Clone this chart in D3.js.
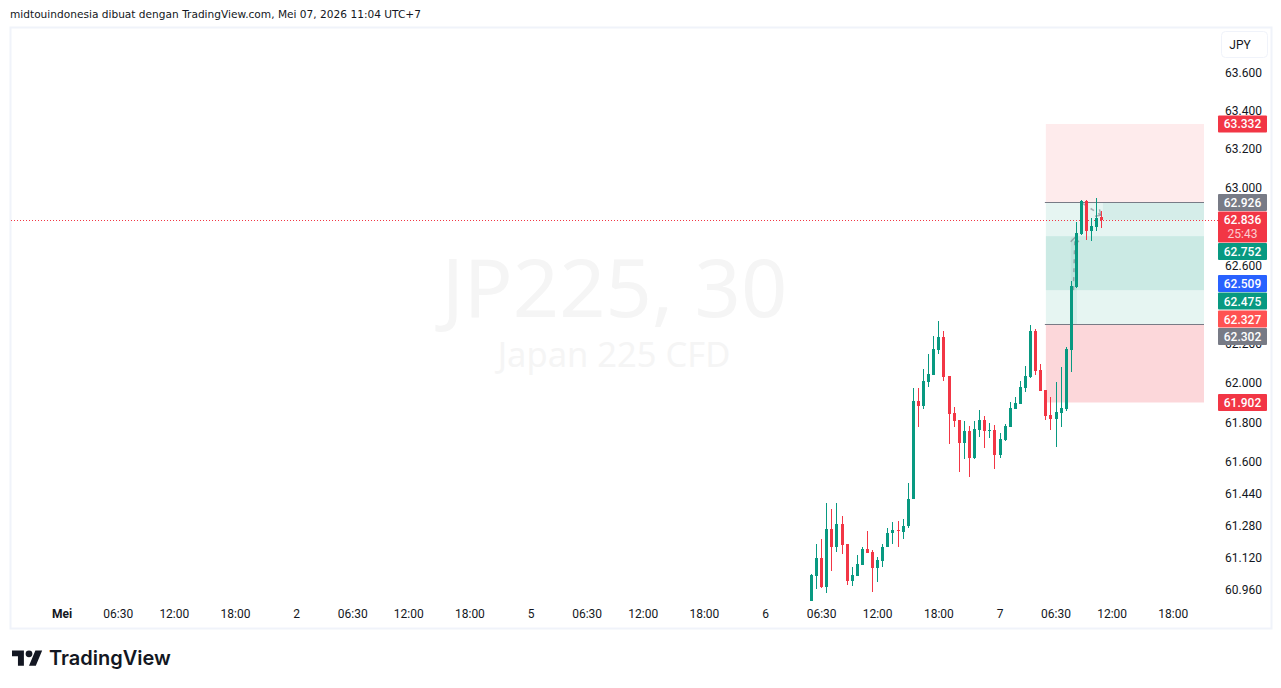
<!DOCTYPE html>
<html>
<head>
<meta charset="utf-8">
<script src="https://cdn.jsdelivr.net/npm/d3@7"></script>
<style>
html, body { margin: 0; padding: 0; background: #fff; }
svg { display: block; }
</style>
</head>
<body>
<svg width="1281" height="688"></svg>
<script>
// bar number, counted from the 1st of May, of the first candle on the chart
var firstBar = 147;
// open, high, low, close per 30 minute candle
var opens = [60.902,61.028,61.117,60.973,61.263,61.171,61.288,61.187,61.005,61.028,61.085,61.162,61.147,61.068,61.104,61.171,61.241,61.259,61.249,61.276,
  61.412,61.912,61.886,62.008,62.044,62.171,62.237,62.039,61.851,61.815,61.699,61.760,61.622,61.765,61.815,61.760,61.765,61.638,61.714,61.780,61.871,61.892,61.978,
  62.034,62.267,62.069,61.963,61.841,61.820,61.851,61.871,62.171,62.493,62.764,62.934,62.780,62.800,62.850];
var highs = [61.038,61.189,61.214,61.395,61.365,61.395,61.328,61.187,61.073,61.134,61.174,61.254,61.159,61.124,61.187,61.270,61.300,61.305,61.315,61.496,
  61.978,61.978,62.074,62.151,62.242,62.318,62.267,62.039,61.881,61.815,61.810,61.785,61.810,61.866,61.836,61.800,61.790,61.749,61.795,61.902,61.932,62.013,62.090,
  62.298,62.278,62.100,61.968,61.932,62.008,62.085,62.186,62.523,62.826,62.939,62.939,62.846,62.949,62.882];
var lows = [60.902,60.964,60.968,60.943,61.053,61.149,61.140,60.983,60.978,61.028,61.085,61.144,60.948,60.998,61.073,61.171,61.189,61.174,61.214,61.270,
  61.412,61.780,61.871,61.983,62.044,62.151,62.013,61.694,61.780,61.551,61.617,61.526,61.617,61.729,61.673,61.724,61.566,61.622,61.709,61.780,61.871,61.892,61.953,
  62.029,62.044,61.958,61.815,61.765,61.678,61.780,61.861,62.059,62.487,62.759,62.734,62.729,62.780,62.795];
var closes = [61.033,61.117,60.973,61.263,61.171,61.288,61.184,61.005,61.033,61.087,61.162,61.144,61.068,61.107,61.174,61.244,61.259,61.254,61.278,61.415,
  61.912,61.886,62.013,62.049,62.176,62.237,62.034,61.846,61.810,61.699,61.760,61.622,61.770,61.815,61.760,61.765,61.638,61.719,61.785,61.876,61.897,61.983,62.039,
  62.267,62.064,61.958,61.836,61.820,61.856,61.876,62.176,62.498,62.770,62.934,62.780,62.805,62.846,62.836];

// 62.800 and 62.400 are left out, the price labels cover them
var priceTicks = [63.6,63.4,63.2,63.0,62.6,62.2,62.0,61.8,61.6,61.44,61.28,61.12,60.96];
var timeTicks = [0,11,22,34,46,57,68,80,92,103,114,126,138,149,160,172,184,195,206,218];
var timeLabels = ['Mei','06:30','12:00','18:00','2','06:30','12:00','18:00','5','06:30','12:00','18:00','6','06:30','12:00','18:00','7','06:30','12:00','18:00'];

// position tool levels
var stopTop = 63.332, stopBottom = 62.926;
var targetBottom = 62.302, riskBottom = 61.902;
var fillTop = 62.752, fillBottom = 62.475;
var lastPrice = 62.836;

// dashed trade arrows on the position tool
var arrowBars = [[198.4, 198.7], [200.3, 203.8]];
var arrowPrices = [[62.475, 62.745], [62.92, 62.86]];

// price labels in the order they claim room on the axis
var labelPrices = [62.836,62.926,62.509,62.327,63.332,61.902,62.752,62.475,62.302];
var labelColors = ['#f23645','#787b86','#2962ff','#ff5252','#f23645','#f23645','#089981','#089981','#787b86'];
var countdown = '25:43';

var upColor = '#089981', downColor = '#f23645';
var fontName = "Roboto, 'Liberation Sans', sans-serif";

var svg = d3.select('svg');

var y = d3.scaleLog().domain([63.6, 60.96]).range([72.5, 589.5]);
var x = d3.scaleLinear().domain([0, 184]).range([62.2, 1000]);

// frame of the chart
svg.append('rect').attr('x', 10.5).attr('y', 27.5).attr('width', 1261).attr('height', 601)
  .attr('fill', '#fff').attr('stroke', '#f0f3fa').attr('stroke-width', 2);

svg.append('text').attr('x', 10).attr('y', 18).text('midtouindonesia dibuat dengan TradingView.com, Mei 07, 2026 11:04 UTC+7')
  .attr('font-family', "'DejaVu Sans', sans-serif").attr('font-size', 10.6).attr('fill', '#131722');

// watermark
svg.append('text').attr('x', 614.5).attr('y', 316.5).attr('text-anchor', 'middle').text('JP225, 30')
  .attr('font-family', "'Noto Sans', sans-serif").attr('font-size', 81).attr('fill', '#f5f5f5');
svg.append('text').attr('x', 614).attr('y', 367).attr('text-anchor', 'middle').text('Japan 225 CFD')
  .attr('font-family', "'Noto Sans', sans-serif").attr('font-size', 34.5).attr('fill', '#f5f5f5');

// long position boxes
var boxLeft = x(firstBar + 46), boxRight = 1204;
function band(left, right, top, bottom, color, alpha) {
  svg.append('rect').attr('x', left).attr('width', right - left)
    .attr('y', y(top)).attr('height', y(bottom) - y(top))
    .attr('fill', color).attr('fill-opacity', alpha);
}
band(boxLeft, boxRight, stopTop, stopBottom, downColor, 0.1);
band(boxLeft, boxRight, stopBottom, targetBottom, upColor, 0.1);
band(boxLeft, boxRight, fillTop, fillBottom, upColor, 0.12);
band(boxLeft, boxRight, targetBottom, riskBottom, downColor, 0.2);
band(x(firstBar + 57) + 1, boxRight, stopBottom, lastPrice, upColor, 0.08);
band(x(firstBar + 51) - 0.5, x(firstBar + 52) + 0.5, arrowPrices[0][1], targetBottom, upColor, 0.08);

[stopBottom, targetBottom].forEach(function (p) {
  svg.append('line').attr('x1', boxLeft - 1).attr('x2', boxRight)
    .attr('y1', Math.round(y(p)) + 0.5).attr('y2', Math.round(y(p)) + 0.5)
    .attr('stroke', '#787b86').attr('stroke-width', 1);
});

// trade arrows
arrowBars.forEach(function (bars, i) {
  var pts = bars.map(function (b, j) { return [x(b), y(arrowPrices[i][j])]; });
  svg.append('path').attr('d', d3.line()(pts)).attr('fill', 'none')
    .attr('stroke', '#787b86').attr('stroke-opacity', 0.6).attr('stroke-width', 1.5).attr('stroke-dasharray', '4,5');
  var end = pts[1], a = Math.atan2(pts[1][1] - pts[0][1], pts[1][0] - pts[0][0]);
  var head = [-0.75, 0.75].map(function (t) {
    return [end[0] - 6 * Math.cos(a + t), end[1] - 6 * Math.sin(a + t)];
  });
  svg.append('path').attr('d', d3.line()([head[0], end, head[1]])).attr('fill', 'none')
    .attr('stroke', '#787b86').attr('stroke-opacity', 0.6).attr('stroke-width', 1.5);
});

// last price line
svg.append('line').attr('x1', 11).attr('x2', 1218).attr('y1', Math.round(y(lastPrice)) + 0.5).attr('y2', Math.round(y(lastPrice)) + 0.5)
  .attr('stroke', downColor).attr('stroke-width', 1).attr('stroke-dasharray', '1,2');

// candles
var candles = opens.map(function (o, i) {
  return { bar: firstBar + i, o: o, h: highs[i], l: lows[i], c: closes[i] };
});
var g = svg.selectAll('g.candle').data(candles).enter().append('g').attr('class', 'candle')
  .attr('fill', function (d) { return d.c >= d.o ? upColor : downColor; })
  .attr('shape-rendering', 'crispEdges');
g.append('rect')
  .attr('x', function (d) { return Math.floor(x(d.bar)); })
  .attr('width', 1)
  .attr('y', function (d) { return y(d.h); })
  .attr('height', function (d) { return y(d.l) - y(d.h); });
g.append('rect')
  .attr('x', function (d) { return Math.floor(x(d.bar)) - 1; })
  .attr('width', 3)
  .attr('y', function (d) { return y(Math.max(d.o, d.c)); })
  .attr('height', function (d) { return Math.max(1, Math.abs(y(d.o) - y(d.c))); });

// time axis
svg.selectAll('text.time').data(timeTicks).enter().append('text').attr('class', 'time')
  .attr('x', function (d) { return x(d); }).attr('y', 618).attr('text-anchor', 'middle')
  .text(function (d, i) { return timeLabels[i]; })
  .attr('font-family', fontName).attr('font-size', 12)
  .attr('font-weight', function (d) { return d === 0 ? 700 : 400; })
  .attr('fill', '#131722');

// price axis
svg.selectAll('text.price').data(priceTicks).enter().append('text').attr('class', 'price')
  .attr('x', 1243.5).attr('y', function (d) { return y(d) + 4; }).attr('text-anchor', 'middle')
  .text(function (d) { return d3.format('.3f')(d); })
  .attr('font-family', fontName).attr('font-size', 12).attr('fill', '#131722');

// currency button
svg.append('rect').attr('x', 1221.5).attr('y', 31.5).attr('width', 46).attr('height', 26).attr('rx', 4)
  .attr('fill', '#fff').attr('stroke', '#f0f3fa');
svg.append('text').attr('x', 1240).attr('y', 49).attr('text-anchor', 'middle').text('JPY')
  .attr('font-family', fontName).attr('font-size', 12).attr('fill', '#131722');

// price labels, each pushed down until it clears the ones already placed
var placed = [];
labelPrices.forEach(function (p, i) {
  var h = p === lastPrice ? 31 : 17;
  var top = y(p) - 8.5;
  placed.forEach(function (b) {
    if (top < b.bottom && top + h > b.top) top = b.bottom + 0.5;
  });
  placed.push({ top: top, bottom: top + h });
  svg.append('rect').attr('x', 1218).attr('y', top).attr('width', 49).attr('height', h).attr('rx', 1).attr('fill', labelColors[i]);
  svg.append('text').attr('x', 1242.5).attr('y', top + 13).attr('text-anchor', 'middle').text(d3.format('.3f')(p))
    .attr('font-family', fontName).attr('font-size', 12).attr('font-weight', 500).attr('fill', '#fff');
  if (p === lastPrice) {
    svg.append('text').attr('x', 1242.5).attr('y', top + 27).attr('text-anchor', 'middle').text(countdown)
      .attr('font-family', fontName).attr('font-size', 12).attr('fill', '#fff').attr('fill-opacity', 0.75);
  }
});

// logo
var logo = svg.append('g').attr('transform', 'translate(12,647) scale(0.85)').attr('fill', '#131722');
logo.append('path').attr('d', 'M14 22H7V11H0V4h14v18zM28 22h-8l7.5-18h8L28 22z');
logo.append('circle').attr('cx', 20).attr('cy', 8).attr('r', 4);
svg.append('text').attr('x', 49).attr('y', 665).text('TradingView')
  .attr('font-family', "Inter, sans-serif").attr('font-size', 20).attr('font-weight', 600).attr('fill', '#131722');
</script>
</body>
</html>
